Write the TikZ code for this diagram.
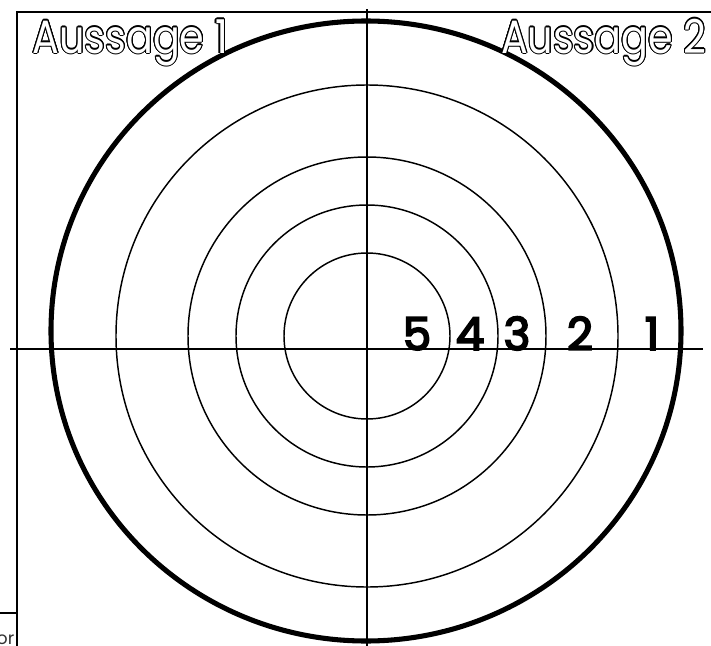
\documentclass[tikz,border=0pt]{standalone}
\usepackage{fontspec}
\setmainfont{Poppins}
\newfontfamily\titlefont{Poppins}[FakeStretch=0.85]
\newfontfamily\ringfont{Poppins}[FakeBold=4]
\usepackage{contour}
\contourlength{0.8pt}
\usetikzlibrary{calc}

\begin{document}
\begin{tikzpicture}[x=0.75pt, y=-0.75pt, line width=1.1pt]
    \useasboundingbox (0,0) rectangle (711,646);
    % Frame
    \draw[line width=1.6pt] (17,646) -- (17,12) -- (711,12);
    \draw[line width=1.6pt] (0,613) -- (17,613);
    \node[anchor=north east, inner sep=0pt, font=\fontsize{13}{14}\selectfont, black!80] (foot) at (15,634) {or};
    % Axes
    \coordinate (O) at (367,336);
    \coordinate (top) at (367,9);
    \coordinate (bottom) at (367,646);
    \coordinate (west) at (10,349);
    \coordinate (east) at (703,349);
    \draw (top) -- (bottom);
    \draw (west) -- (east);
    % Rings
    \foreach \r in {83,131,179,251}
        \draw (O) circle (\r);
    \draw[line width=3.8pt] (366,331) ellipse (315 and 310);
    % Titles
    \node[anchor=base west, inner sep=0pt, text=white, font=\titlefont\fontsize{35}{37}\selectfont] (s1) at (32,53) {\contour{black}{Aussage 1}};
    \node[anchor=base east, inner sep=0pt, text=white, font=\titlefont\fontsize{35}{37}\selectfont] (s2) at (707,53) {\contour{black}{Aussage 2}};
    % Ring numbers
    \foreach \n/\x in {5/417, 4/470, 3/517, 2/580, 1/652}
        \node[anchor=base, inner sep=0pt, font=\ringfont\fontsize{34}{36}\selectfont] (n\n) at (\x,350) {\n};
\end{tikzpicture}
\end{document}
